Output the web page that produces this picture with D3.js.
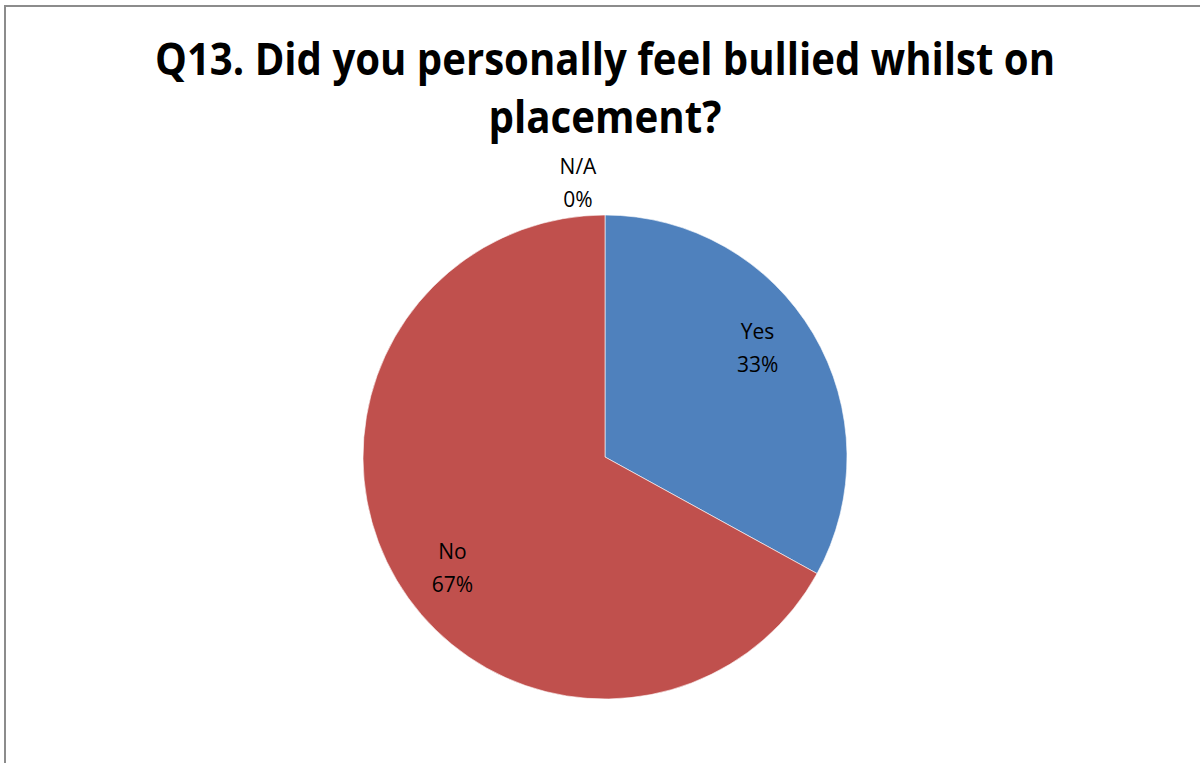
<!DOCTYPE html>
<html>
<head>
<meta charset="utf-8">
<script src="https://cdn.jsdelivr.net/npm/d3@7"></script>
<style>
  html, body { margin: 0; padding: 0; background: #fff; }
  svg { display: block; }
</style>
</head>
<body>
<svg id="chart" width="1200" height="763"></svg>
<script>
// Survey responses, Q13
const categories = ["Yes", "No", "N/A"];
const percents = [33, 67, 0];
const titleLines = ["Q13. Did you personally feel bullied whilst on", "placement?"];

const colors = d3.scaleOrdinal()
  .domain(categories)
  .range(["#4F81BD", "#C0504D", "#9BBB59"]);

const width = 1200, height = 763;
const cx = 605, cy = 457, radius = 242;
const svg = d3.select("#chart");

// chart area frame (runs off the right and bottom of the page)
svg.append("rect")
  .attr("x", 5).attr("y", 6)
  .attr("width", width + 20).attr("height", height + 20)
  .attr("fill", "#fff")
  .attr("stroke", "#8c8c8c")
  .attr("stroke-width", 2);

// title
const titleFont = "'Open Sans', 'Noto Sans', sans-serif";
const titleWidths = [900, 233];
const titleBaselines = [75, 133];
svg.append("g").selectAll("text")
  .data(titleLines)
  .join("text")
  .attr("x", cx)
  .attr("y", (d, i) => titleBaselines[i])
  .attr("text-anchor", "middle")
  .attr("font-family", titleFont)
  .attr("font-weight", 700)
  .attr("font-size", 45)
  .attr("fill", "#000")
  .attr("textLength", (d, i) => titleWidths[i])
  .attr("lengthAdjust", "spacingAndGlyphs")
  .text(d => d);

// pie
const data = categories.map((c, i) => ({ category: c, value: percents[i] }));
const pie = d3.pie().value(d => d.value).sort(null);
const arcs = pie(data);
const arc = d3.arc().innerRadius(0).outerRadius(radius);

const g = svg.append("g").attr("transform", `translate(${cx},${cy})`);
g.selectAll("path")
  .data(arcs.filter(d => d.value > 0))
  .join("path")
  .attr("d", arc)
  .attr("fill", d => colors(d.data.category))
  .attr("stroke", "#fff")
  .attr("stroke-width", 0.6);

// data labels: category name + percentage
const labelRadius = 188;
const labelFont = "'Open Sans', 'Noto Sans', sans-serif";
const labels = g.selectAll("g.label")
  .data(arcs)
  .join("g")
  .attr("class", "label")
  .attr("transform", d => {
    if (d.value > 0) {
      // inside the slice, nudged a little counter-clockwise of the mid-angle
      const a = (d.startAngle + d.endAngle) / 2 - 0.09;
      return `translate(${Math.sin(a) * labelRadius},${-Math.cos(a) * labelRadius})`;
    }
    // empty slice: label sits just outside the rim, above-left of the slice edge
    const a = d.startAngle;
    const r = radius + 33;
    return `translate(${Math.sin(a) * r - 27},${-Math.cos(a) * r})`;
  });

labels.selectAll("text")
  .data(d => [d.data.category, d3.format(".0f")(d.data.value) + "%"])
  .join("text")
  .attr("x", 0)
  .attr("y", (d, i) => i === 0 ? -8 : 25)
  .attr("text-anchor", "middle")
  .attr("font-family", labelFont)
  .attr("font-size", 21)
  .attr("fill", "#000")
  .text(d => d);
</script>
</body>
</html>
